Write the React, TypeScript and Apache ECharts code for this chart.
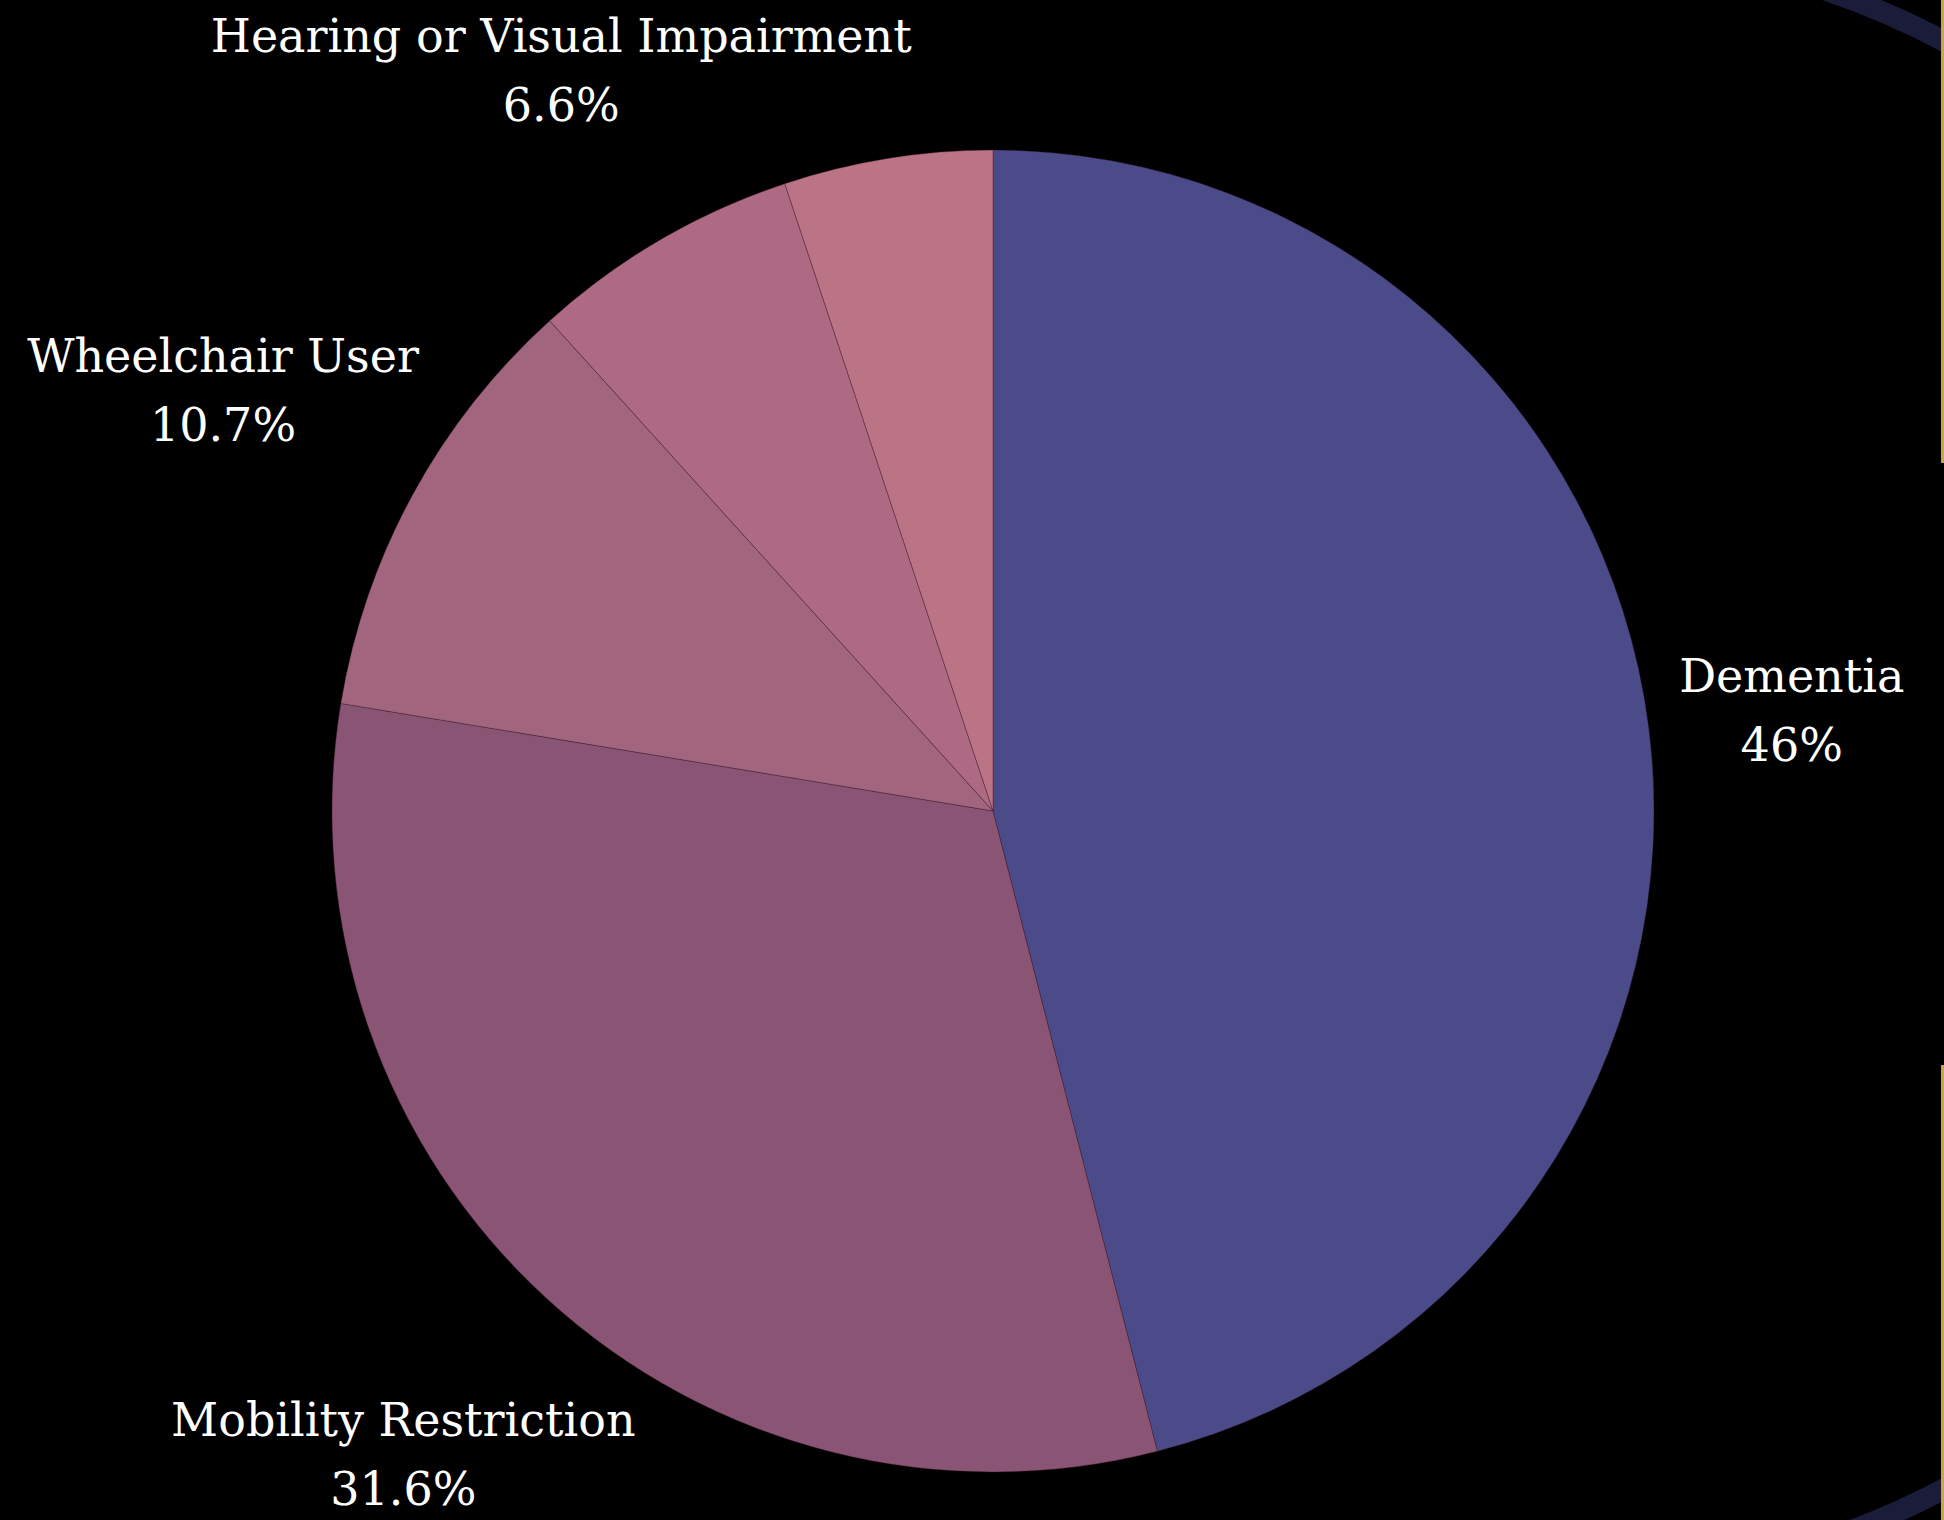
import React, { useEffect, useRef } from "react";
import * as echarts from "echarts";

const categories = [
  "Dementia",
  "Mobility Restriction",
  "Wheelchair User",
  "Hearing or Visual Impairment",
  "Other",
];
const values = [46, 31.6, 10.7, 6.6, 5.1];
const sliceColors = ["#4a4b88", "#8a5574", "#a1657d", "#ad6a82", "#bb7386"];
const labelVisible = [true, true, true, true, false];

// layout (not data)
const CX = 993;
const CY = 811;
const R = 661;
const labelRadiusRatio = [1.218, 1.321, 1.327, 1.297, 1.3];

function midAngle(i: number): number {
  const total = values.reduce((a, b) => a + b, 0);
  let before = 0;
  for (let k = 0; k < i; k++) before += values[k];
  return ((before + values[i] / 2) / total) * Math.PI * 2;
}

const deg = Math.PI / 180;

export default function App() {
  const ref = useRef<HTMLDivElement>(null);
  useEffect(() => {
    if (!ref.current) return;
    const chart = echarts.init(ref.current, null, { renderer: "svg" });
    const option: any = {
      animation: false,
      backgroundColor: "#000000",
      graphic: [
        {
          type: "arc",
          shape: { cx: 1563, cy: 765, r: 818, startAngle: -82 * deg, endAngle: -58 * deg, clockwise: true },
          style: { stroke: "#1b1b3a", lineWidth: 21, fill: null },
          z: 1,
        },
        {
          type: "arc",
          shape: { cx: 1563, cy: 765, r: 818, startAngle: 58 * deg, endAngle: 82 * deg, clockwise: true },
          style: { stroke: "#1b1b3a", lineWidth: 21, fill: null },
          z: 1,
        },
        {
          type: "line",
          shape: { x1: 1942.5, y1: 0, x2: 1942.5, y2: 463 },
          style: { stroke: "#c9a54a", lineWidth: 3 },
          z: 2,
        },
        {
          type: "line",
          shape: { x1: 1942.5, y1: 1065, x2: 1942.5, y2: 1520 },
          style: { stroke: "#c9a54a", lineWidth: 3 },
          z: 2,
        },
      ],
      series: [
        {
          type: "pie",
          center: [CX, CY],
          radius: R,
          startAngle: 90,
          clockwise: true,
          avoidLabelOverlap: false,
          itemStyle: { borderColor: "rgba(60,20,40,0.35)", borderWidth: 1 },
          label: {
            show: true,
            color: "#ffffff",
            fontFamily: "'DejaVu Serif', serif",
            fontSize: 46,
            lineHeight: 69,
            formatter: (p: any) => `${p.name}\n${p.percent}%`,
          },
          labelLine: { show: false },
          labelLayout: (params: any) => {
            const i = params.dataIndex;
            const a = midAngle(i);
            const d = R * labelRadiusRatio[i];
            return {
              x: CX + Math.sin(a) * d,
              y: CY - Math.cos(a) * d,
              align: "center",
              verticalAlign: "middle",
            };
          },
          data: categories.map((name, i) => ({
            name,
            value: values[i],
            itemStyle: { color: sliceColors[i] },
            label: { show: labelVisible[i] },
          })),
        },
      ],
    };
    chart.setOption(option);
    return () => chart.dispose();
  }, []);
  return (
    <div
      ref={ref}
      style={{ position: "fixed", left: 0, top: 0, width: 1944, height: 1520 }}
    />
  );
}
